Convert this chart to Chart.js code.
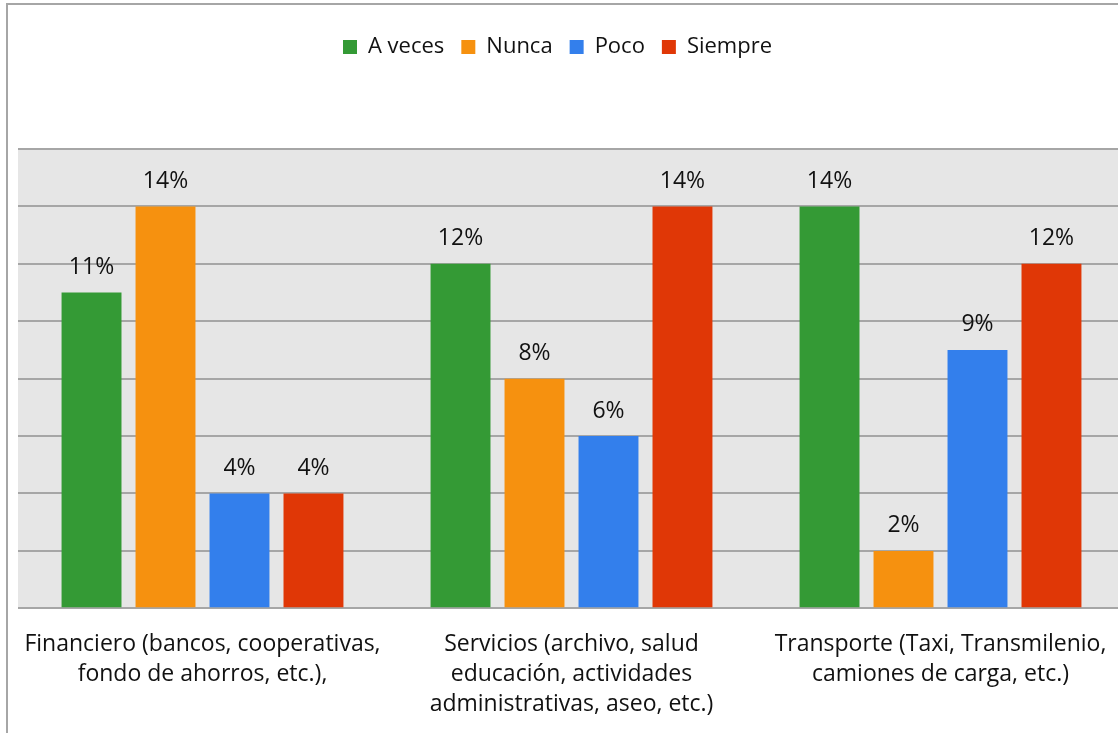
<!DOCTYPE html>
<html>
<head>
<meta charset="utf-8">
<script src="https://cdn.jsdelivr.net/npm/chart.js@4.4.1/dist/chart.umd.min.js"></script>
<style>
  html, body { margin: 0; padding: 0; background: #fff; overflow: hidden; }
  #wrap { position: relative; width: 1118px; height: 733px; overflow: hidden; }
  #frame { position: absolute; left: 6px; top: 3px; width: 1140px; height: 760px; border: 2px solid #a6a6a6; box-sizing: border-box; }
  canvas { position: absolute; left: 0; top: 0; }
</style>
</head>
<body>
<div id="wrap">
  <div id="frame"></div>
  <canvas id="chart" width="1125" height="733"></canvas>
</div>
<script>
// Sectors and answer frequencies (percent)
const sectors = [
    ['Financiero (bancos, cooperativas,', 'fondo de ahorros, etc.),'],
    ['Servicios (archivo, salud', 'educación, actividades', 'administrativas, aseo, etc.)'],
    ['Transporte (Taxi, Transmilenio,', 'camiones de carga, etc.)']
];
const seriesNames = ['A veces', 'Nunca', 'Poco', 'Siempre'];
const aVeces = [11, 12, 14];
const nunca = [14, 8, 2];
const poco = [4, 6, 9];
const siempre = [4, 14, 12];
const seriesColors = ['#349a35', '#f6910f', '#337fec', '#e03706'];

const FONT = "'Open Sans', 'Noto Sans', sans-serif";

// grey plot background
const plotBackground = {
    id: 'plotBackground',
    beforeDraw(chart) {
        const { ctx, chartArea: a } = chart;
        ctx.save();
        ctx.fillStyle = '#e6e6e6';
        ctx.fillRect(a.left, a.top, a.right - a.left, a.bottom - a.top);
        ctx.restore();
    }
};

// percentage labels over each bar
const valueLabels = {
    id: 'valueLabels',
    afterDatasetsDraw(chart) {
        const { ctx } = chart;
        ctx.save();
        ctx.font = '23px ' + FONT;
        ctx.fillStyle = '#111';
        ctx.textAlign = 'center';
        ctx.textBaseline = 'middle';
        chart.data.datasets.forEach((ds, i) => {
            chart.getDatasetMeta(i).data.forEach((bar, j) => {
                ctx.fillText(ds.data[j] + '%', bar.x, bar.y - 25);
            });
        });
        ctx.restore();
    }
};

// extra room under the legend, and legend nudged a bit left
const legendSpace = {
    id: 'legendSpace',
    beforeInit(chart) {
        const fit = chart.legend.fit;
        chart.legend.fit = function () {
            fit.bind(chart.legend)();
            this.height += 81;
        };
    },
    afterLayout(chart) {
        chart.legend.left -= 14;
        chart.legend.right -= 14;
    }
};

const ctx = document.getElementById('chart').getContext('2d');
new Chart(ctx, {
    type: 'bar',
    data: {
        labels: sectors,
        datasets: [aVeces, nunca, poco, siempre].map((values, i) => ({
            label: seriesNames[i],
            data: values,
            backgroundColor: seriesColors[i],
            borderWidth: 0,
            categoryPercentage: 0.802,
            barPercentage: 0.81
        }))
    },
    options: {
        responsive: false,
        animation: false,
        layout: { padding: { left: 18, right: 0, top: 19, bottom: 0 } },
        plugins: {
            legend: {
                position: 'top',
                labels: {
                    font: { family: FONT, size: 22 },
                    color: '#111',
                    boxWidth: 14,
                    boxHeight: 14,
                    padding: 17
                }
            },
            tooltip: { enabled: false }
        },
        scales: {
            x: {
                grid: { display: false },
                border: { display: false },
                ticks: {
                    color: '#111',
                    font: { family: FONT, size: 23, lineHeight: 1.3 },
                    padding: 13.5,
                    maxRotation: 0,
                    autoSkip: false
                }
            },
            y: {
                min: 0,
                max: 16,
                ticks: { display: false, stepSize: 2 },
                border: { display: false },
                grid: { color: '#a6a6a6', lineWidth: 2, drawTicks: false }
            }
        }
    },
    plugins: [plotBackground, valueLabels, legendSpace]
});
</script>
</body>
</html>
